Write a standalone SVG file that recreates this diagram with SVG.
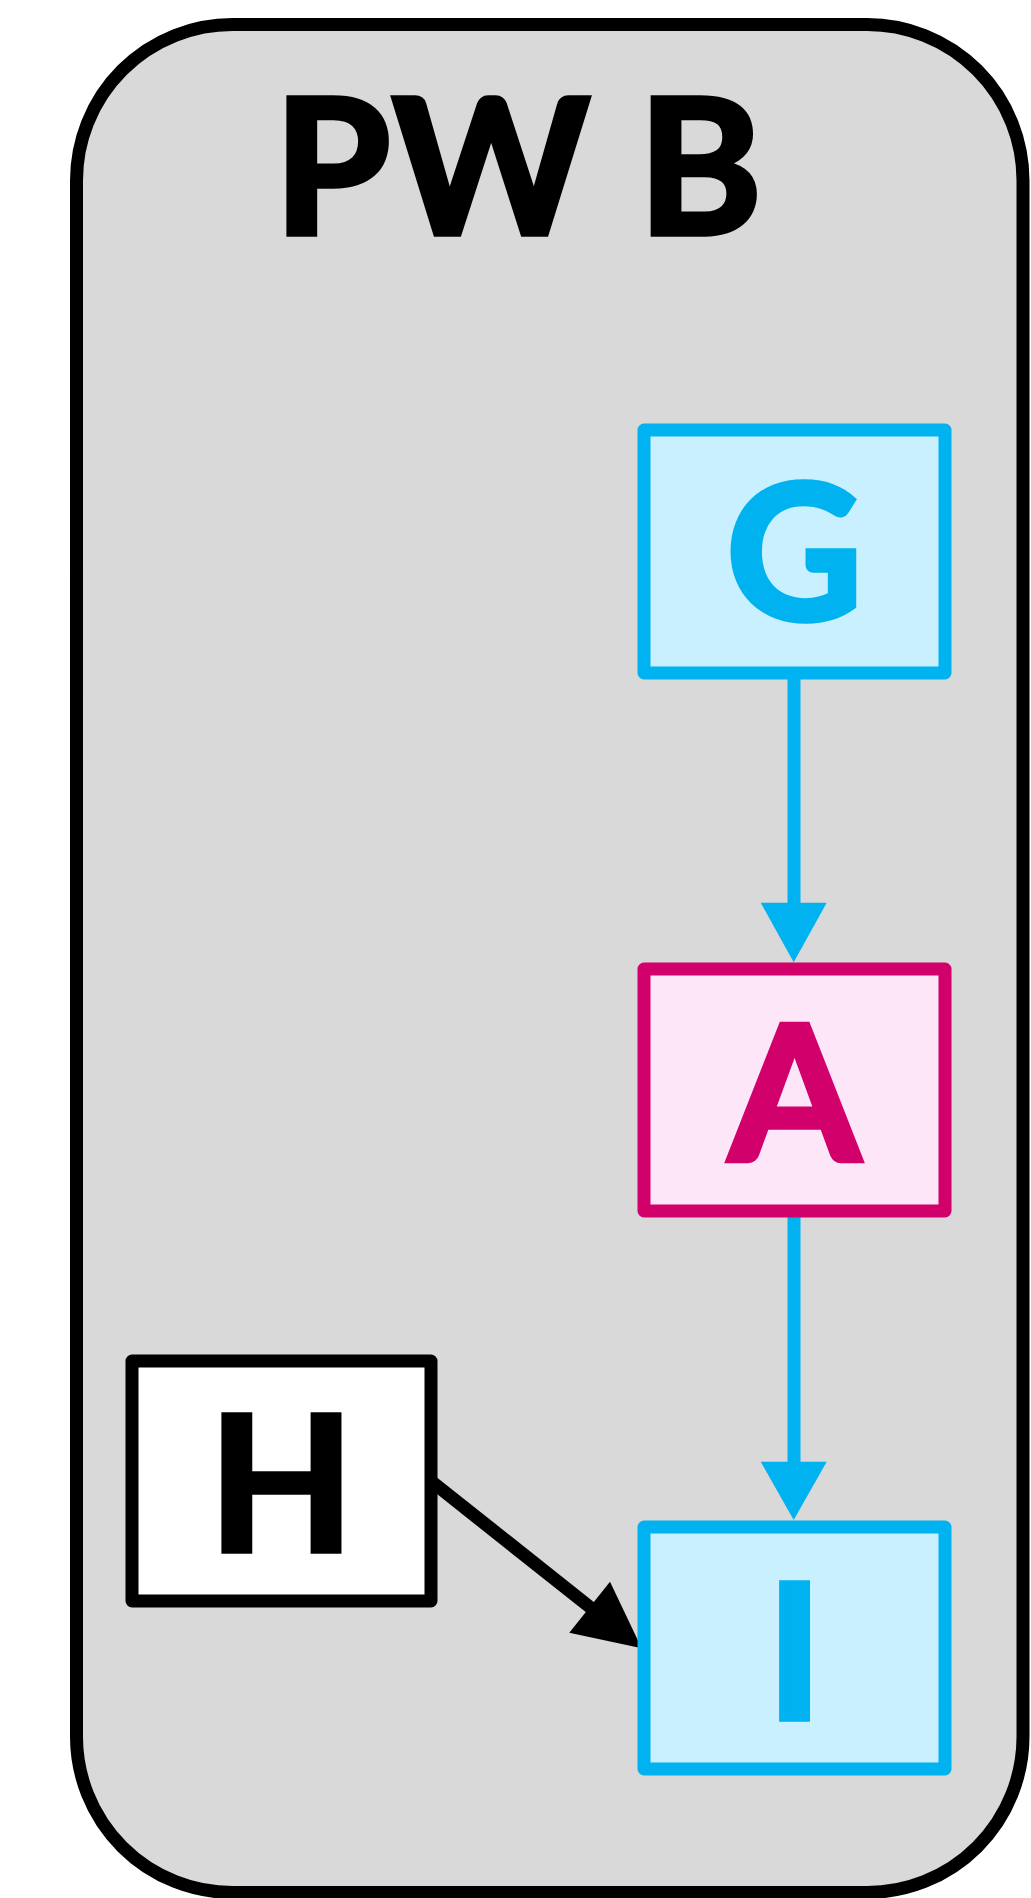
<svg xmlns="http://www.w3.org/2000/svg" width="1031" height="1898" viewBox="0 0 1031 1898">
  <style>
    .lbl { font-family: Lato, "Noto Sans", "Liberation Sans", sans-serif; font-weight: 700; font-size: 188px; text-anchor: middle; stroke-width: 5.5; stroke-linejoin: miter; }
    .blue { fill: #c8f0fe; stroke: #00b2f0; stroke-width: 13; stroke-linejoin: round; }
    .pink { fill: #fce6f8; stroke: #d1006b; stroke-width: 13; stroke-linejoin: round; }
    .plain { fill: #ffffff; stroke: #000000; stroke-width: 13; stroke-linejoin: round; }
    .edge { fill: none; stroke-width: 13; }
  </style>

  <g id="cluster-PWB">
    <rect x="76.5" y="24.5" width="946.5" height="1868" rx="156" ry="156" fill="#d9d9d9" stroke="#000000" stroke-width="13"/>
    <text x="519" y="233.5" class="lbl" fill="#000000" stroke="#000000" letter-spacing="2">PW B</text>
  </g>

  <g id="connectors">
    <line x1="794" y1="673" x2="794" y2="904" class="edge" stroke="#00b2f0"/>
    <polygon points="760.7,902.7 826.7,902.7 793.7,962.3" fill="#00b2f0"/>
    <line x1="794" y1="1211" x2="794" y2="1463" class="edge" stroke="#00b2f0"/>
    <polygon points="760.7,1461.7 826.7,1461.7 793.7,1520" fill="#00b2f0"/>
    <line x1="431" y1="1481" x2="591" y2="1608" class="edge" stroke="#000000"/>
    <polygon points="610,1581.7 569.3,1632.7 641.7,1648.3" fill="#000000"/>
  </g>

  <g id="node-G">
    <rect x="644" y="430" width="301" height="243" class="blue"/>
    <text x="794.5" y="620" class="lbl" fill="#00b2f0" stroke="#00b2f0">G</text>
  </g>

  <g id="node-A">
    <rect x="644" y="969" width="301" height="242" class="pink"/>
    <text x="794.5" y="1160" class="lbl" fill="#d1006b" stroke="#d1006b">A</text>
  </g>

  <g id="node-H">
    <rect x="132" y="1361" width="299" height="240" class="plain"/>
    <text x="281.5" y="1550.5" class="lbl" fill="#000000" stroke="#000000">H</text>
  </g>

  <g id="node-I">
    <rect x="644" y="1527" width="301" height="242" class="blue"/>
    <text x="794.5" y="1719" class="lbl" fill="#00b2f0" stroke="#00b2f0">I</text>
  </g>
</svg>
